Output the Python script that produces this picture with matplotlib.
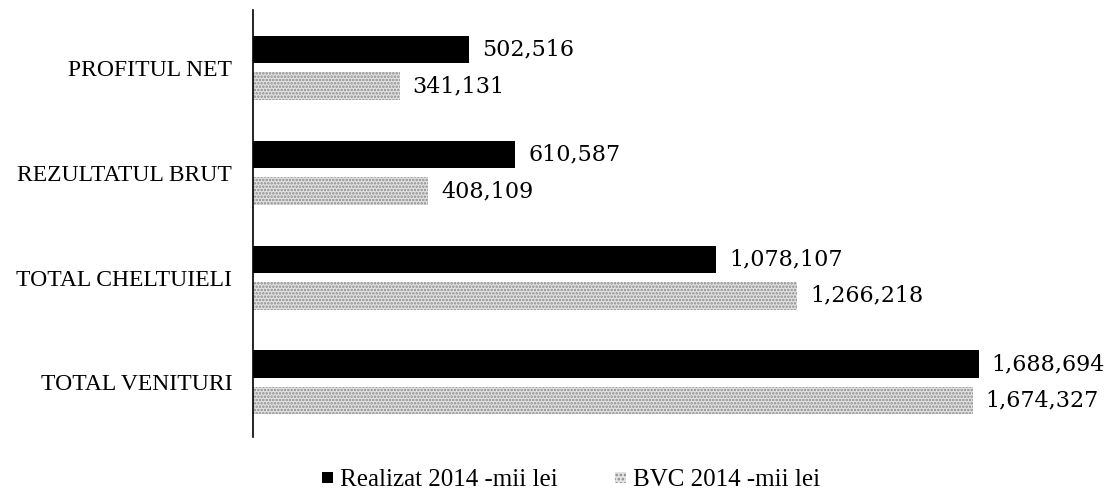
import numpy as np
import matplotlib.pyplot as plt
from matplotlib.patches import Patch

# date (mii lei)
categorii = ['TOTAL VENITURI', 'TOTAL CHELTUIELI', 'REZULTATUL BRUT', 'PROFITUL NET']
realizat = [1688694, 1078107, 610587, 502516]
bvc = [1674327, 1266218, 408109, 341131]
etichete_realizat = ['1,688,694', '1,078,107', '610,587', '502,516']
etichete_bvc = ['1,674,327', '1,266,218', '408,109', '341,131']

plt.rcParams['font.family'] = ['Liberation Serif', 'DejaVu Serif']
plt.rcParams['hatch.linewidth'] = 1.2

fig = plt.figure(figsize=(11.05, 4.98), dpi=100)
ax = fig.add_axes([0.229, 0.1225, 0.70, 0.8575])

y = np.arange(len(categorii))
h = 0.26
ax.barh(y + 0.175, realizat, height=h, color='black')
ax.barh(y - 0.175, bvc, height=h, facecolor='#e2e2e2', edgecolor='#8a8a8a',
        hatch='.....', linewidth=0)

for i in range(len(categorii)):
    ax.text(realizat[i] + 30000, y[i] + 0.175, etichete_realizat[i], va='center',
            ha='left', fontsize=16, family='DejaVu Serif', clip_on=False)
    ax.text(bvc[i] + 30000, y[i] - 0.175, etichete_bvc[i], va='center',
            ha='left', fontsize=16, family='DejaVu Serif', clip_on=False)

ax.set_xlim(0, 1800000)
ax.set_ylim(-0.52, 3.55)
ax.set_yticks(y)
ax.set_yticklabels(categorii, fontsize=17)
ax.tick_params(axis='y', length=0, pad=15)
ax.set_xticks([])
for s in ['top', 'right', 'bottom']:
    ax.spines[s].set_visible(False)
ax.spines['left'].set_linewidth(1.2)

handles = [Patch(facecolor='black', label='Realizat 2014 -mii lei'),
           Patch(facecolor='#e2e2e2', edgecolor='#8a8a8a', hatch='....',
                 linewidth=0, label='BVC 2014 -mii lei')]
fig.legend(handles=handles, loc='center', bbox_to_anchor=(0.517, 0.036), ncol=2,
           frameon=False, fontsize=18, handlelength=0.45, handleheight=0.3,
           handletextpad=0.28, columnspacing=2.28)

fig.savefig('out.png', dpi=100)
